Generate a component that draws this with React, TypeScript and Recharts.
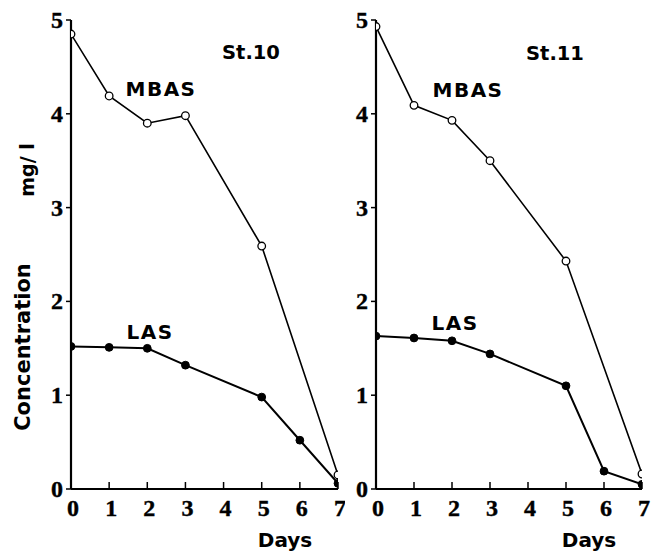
import React from "react";
import { LineChart, Line, XAxis, YAxis } from "recharts";

const days = [0, 1, 2, 3, 5, 6, 7];
const xTicks = [0, 1, 2, 3, 4, 5, 6, 7];
const yTicks = [0, 1, 2, 3, 4, 5];
const st10Mbas = [4.85, 4.19, 3.9, 3.98, 2.59, null, 0.15];
const st10Las = [1.52, 1.51, 1.5, 1.32, 0.98, 0.52, 0.06];
const st11Mbas = [4.93, 4.09, 3.93, 3.5, 2.43, null, 0.16];
const st11Las = [1.63, 1.61, 1.58, 1.44, 1.1, 0.19, 0.05];

const build = (mbas: (number | null)[], las: number[]) =>
  days.map((d, i) => ({ day: d, mbas: mbas[i], las: las[i] }));

const serif = "'Liberation Serif', 'DejaVu Serif', serif";
const sans = "'DejaVu Sans', sans-serif";

const XTick = (props: any) => {
  const { x, y, payload } = props;
  return (
    <text x={x + 2} y={y} textAnchor="middle" dominantBaseline="central"
      fontFamily={serif} fontWeight={700} fontSize={24} fill="#000" stroke="#000" strokeWidth={0.4}>
      {payload.value}
    </text>
  );
};
const YTick = (props: any) => {
  const { x, y, payload } = props;
  return (
    <text x={x} y={y} textAnchor="end" dominantBaseline="central"
      fontFamily={serif} fontWeight={700} fontSize={24} fill="#000" stroke="#000" strokeWidth={0.4}>
      {payload.value}
    </text>
  );
};

const OpenDot = (props: any) => {
  const { cx, cy, payload } = props;
  if (payload.mbas == null) return null;
  return <circle cx={cx} cy={cy} r={3.8} fill="#fff" stroke="#000" strokeWidth={1.3} />;
};
const FillDot = (props: any) => {
  const { cx, cy } = props;
  return <circle cx={cx} cy={cy} r={3.9} fill="#000" stroke="#000" />;
};

function Panel({ data, left, width, right }: any) {
  return (
    <div style={{ position: "absolute", left, top: 0 }}>
      <LineChart width={width} height={553} data={data} margin={{ top: 20, left: 11, right, bottom: 34 }}>
        <XAxis
          dataKey="day"
          type="number"
          domain={[0, 7]}
          ticks={xTicks}
          height={30}
          tickSize={-7}
          tickMargin={26}
          tick={<XTick />}
          axisLine={{ stroke: "#000", strokeWidth: 2.2 }}
          tickLine={{ stroke: "#000", strokeWidth: 1.5 }}
          interval={0}
          allowDataOverflow
        />
        <YAxis
          type="number"
          domain={[0, 5]}
          ticks={yTicks}
          width={60}
          tickSize={5}
          tickMargin={3}
          tick={<YTick />}
          axisLine={{ stroke: "#000", strokeWidth: 2.2 }}
          tickLine={{ stroke: "#000", strokeWidth: 1.5 }}
          interval={0}
        />
        <Line
          dataKey="mbas"
          stroke="#000"
          strokeWidth={1.6}
          connectNulls
          dot={<OpenDot />}
          isAnimationActive={false}
        />
        <Line
          dataKey="las"
          stroke="#000"
          strokeWidth={2}
          dot={<FillDot />}
          isAnimationActive={false}
        />
      </LineChart>
    </div>
  );
}

export default function App() {
  const labelStyle = { fontFamily: sans, fontWeight: 700, fontSize: 20, fill: "#000" } as any;
  return (
    <div style={{ position: "absolute", left: 0, top: 0, width: 651, height: 553, background: "#fff" }}>
      <Panel data={build(st10Mbas, st10Las)} left={0} width={345} right={7} />
      <Panel data={build(st11Mbas, st11Las)} left={305} width={346} right={9} />
      <svg width={651} height={553} style={{ position: "absolute", left: 0, top: 0, pointerEvents: "none" }}>
        <text x={251} y={52} textAnchor="middle" dominantBaseline="central" {...labelStyle} fontSize={19.5}>St.10</text>
        <text x={161} y={89} textAnchor="middle" dominantBaseline="central" {...labelStyle} letterSpacing={1.5}>MBAS</text>
        <text x={150} y={332} textAnchor="middle" dominantBaseline="central" {...labelStyle} letterSpacing={1.5}>LAS</text>
        <text x={285} y={540} textAnchor="middle" dominantBaseline="central" {...labelStyle}>Days</text>
        <text x={555} y={53} textAnchor="middle" dominantBaseline="central" {...labelStyle} fontSize={19.5}>St.11</text>
        <text x={468} y={90} textAnchor="middle" dominantBaseline="central" {...labelStyle} letterSpacing={1.5}>MBAS</text>
        <text x={455} y={323} textAnchor="middle" dominantBaseline="central" {...labelStyle} letterSpacing={1.5}>LAS</text>
        <text x={589} y={540} textAnchor="middle" dominantBaseline="central" {...labelStyle}>Days</text>
        <text x={23} y={347} textAnchor="middle" dominantBaseline="central" transform="rotate(-90 23 347)" {...labelStyle} fontSize={21}>Concentration</text>
        <text x={27} y={170} textAnchor="middle" dominantBaseline="central" transform="rotate(-90 27 170)" {...labelStyle} fontSize={19}>mg/ l</text>
      </svg>
    </div>
  );
}
